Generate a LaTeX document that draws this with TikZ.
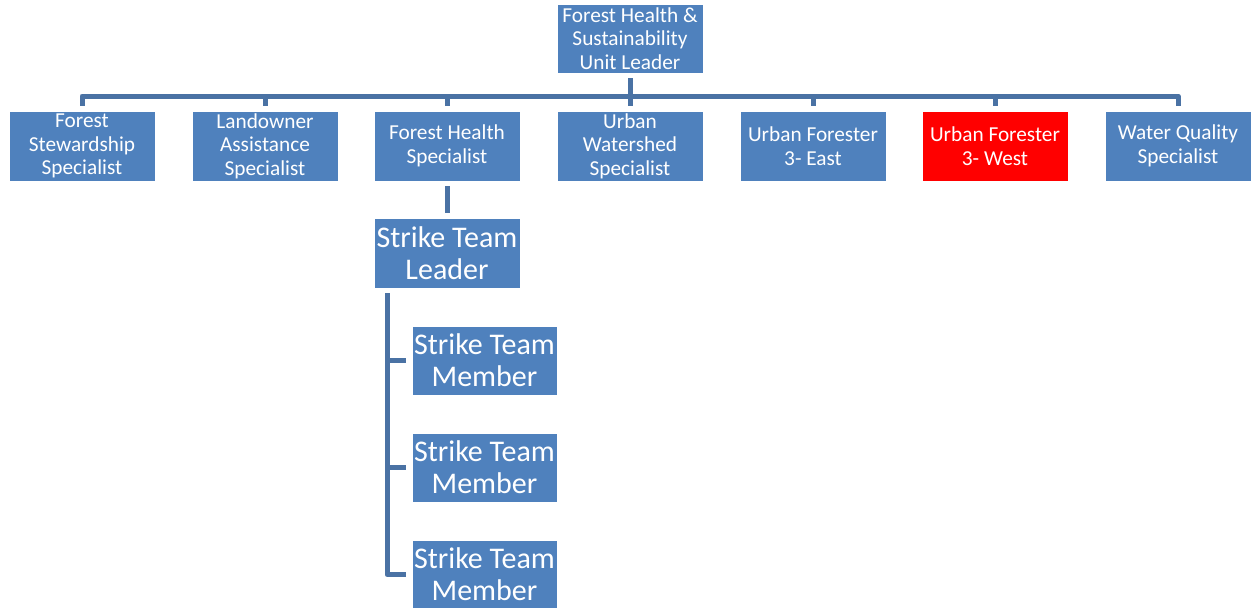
\documentclass[tikz,border=0pt]{standalone}
\usepackage{fontspec}
\setmainfont{Carlito}
\definecolor{boxblue}{HTML}{4F81BD}
\definecolor{lineblue}{HTML}{4A72A4}
\definecolor{boxred}{HTML}{FF0000}
\begin{document}
\begin{tikzpicture}[x=1pt,y=-1pt,
  unitbox/.style={rectangle, fill=boxblue, draw=white, line width=0.6pt, text=white, align=center,
    minimum width=146pt, minimum height=70pt, inner sep=0pt, font=\fontsize{21.3}{23.5}\selectfont},
  bigbox/.style={unitbox, minimum width=145pt, minimum height=69pt, font=\fontsize{30}{32}\selectfont},
  conn/.style={draw=lineblue, line width=5pt, line join=round}]
\useasboundingbox (0,0) rectangle (1251,608);
\node[unitbox, minimum height=69pt] (top) at (630,38.5) {Forest Health \&\\Sustainability\\Unit Leader};
\node[unitbox] (b1) at (82,146) {Forest\\Stewardship\\Specialist};
\node[unitbox] (b2) at (265,146) {Landowner\\Assistance\\Specialist};
\node[unitbox] (b3) at (447,146) {Forest Health\\Specialist};
\node[unitbox] (b4) at (630,146) {Urban\\Watershed\\Specialist};
\node[unitbox] (b5) at (813,146) {Urban Forester\\3- East};
\node[unitbox, fill=boxred] (b6) at (995,146) {Urban Forester\\3- West};
\node[unitbox] (b7) at (1178,146) {Water Quality\\Specialist};
\node[bigbox, minimum width=146pt, minimum height=70pt] (lead) at (447,253) {Strike Team\\Leader};
\node[bigbox] (m1) at (484.5,360.5) {Strike Team\\Member};
\node[bigbox] (m2) at (484.5,467.5) {Strike Team\\Member};
\node[bigbox] (m3) at (484.5,574.5) {Strike Team\\Member};
\coordinate (bus) at (630,96);
\coordinate (sp) at (387,293);
\draw[conn] ([yshift=-5pt]top.south) -- (top.south |- bus);
\draw[conn] ([yshift=5pt]b1.north) -- (b1.north |- bus) -- (b7.north |- bus) -- ([yshift=5pt]b7.north);
\foreach \b in {b2,b3,b4,b5,b6}{
  \draw[conn] (\b.north |- bus) -- ([yshift=5pt]\b.north);
}
\draw[conn] ([yshift=-5pt]b3.south) -- ([yshift=5pt]lead.north);
\draw[conn] (sp) |- ([xshift=-6pt]m3.west);
\draw[conn] (sp |- m1.west) -- ([xshift=-6pt]m1.west);
\draw[conn] (sp |- m2.west) -- ([xshift=-6pt]m2.west);
\end{tikzpicture}
\end{document}
